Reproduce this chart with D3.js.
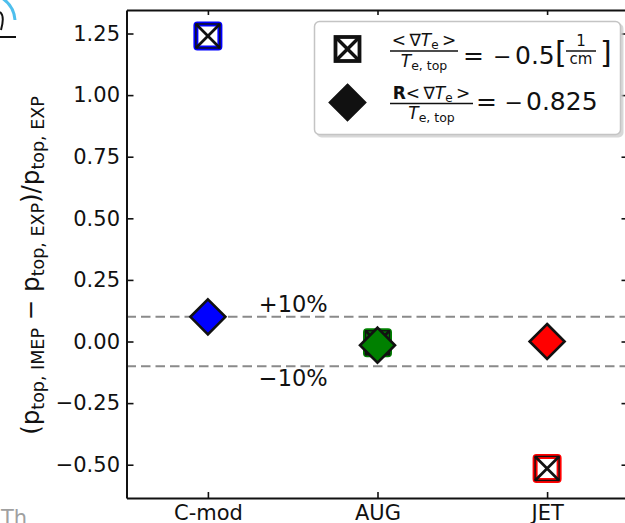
<!DOCTYPE html>
<html>
<head>
<meta charset="utf-8">
<script src="https://cdn.jsdelivr.net/npm/d3@7"></script>
<style>
  html, body { margin: 0; padding: 0; background: #ffffff; }
  svg { display: block; font-family: "DejaVu Sans", sans-serif; }
</style>
</head>
<body>
<svg id="chart" width="625" height="523"></svg>
<script>
// Devices compared on the x axis
const categories = ["C-mod", "AUG", "JET"];
// Relative pedestal-pressure deviation, fixed <grad Te>/Te,top = -0.5 1/cm (boxed-cross markers)
const fixedGradValues = [1.24, -0.005, -0.515];
// Relative pedestal-pressure deviation, fixed R<grad Te>/Te,top = -0.825 (diamonds)
const normGradValues = [0.10, -0.015, 0.0];
const deviceColors = ["#0000ff", "#008000", "#ff0000"];
// Y-axis tick values
const yTickValues = [-0.5, -0.25, 0, 0.25, 0.5, 0.75, 1.0, 1.25];
// +/-10 % reference band
const bandLevels = [0.1, -0.1];
const bandLabels = ["+10%", "\u221210%"];
const bandLabelY = [0.12, -0.18];

const svg = d3.select("#chart");
const plot = { left: 126.5, right: 628.5, top: 10, bottom: 498 };

const x = d3.scaleLinear().domain([-0.48, 2.48]).range([plot.left, plot.right]);
const y = d3.scaleLinear().domain([-0.6351, 1.3454]).range([plot.bottom, plot.top]);

const fmt = v => d3.format(".2f")(v).replace("-", "\u2212");
const ink = "#111111";

// small fragments at the page corners
const deco = svg.append("g");
deco.append("path").attr("d", "M2,-2 Q14,6 15,20").attr("fill", "none")
  .attr("stroke", "#2fb4ea").attr("stroke-width", 3).attr("opacity", 0.85);
deco.append("path").attr("d", "M0,12 Q5,16 1,30").attr("fill", "none")
  .attr("stroke", ink).attr("stroke-width", 2);
deco.append("line").attr("x1", 0).attr("x2", 16).attr("y1", 37).attr("y2", 37)
  .attr("stroke", ink).attr("stroke-width", 2);
deco.append("text").attr("x", 1).attr("y", 525).attr("font-size", 21)
  .attr("fill", "#a0a0a0").text("Th");

// reference lines at +/-10 %
svg.append("g").selectAll("line").data(bandLevels).join("line")
  .attr("x1", plot.left).attr("x2", plot.right)
  .attr("y1", d => y(d)).attr("y2", d => y(d))
  .attr("stroke", "#8a8a8a").attr("stroke-width", 2)
  .attr("stroke-dasharray", "9.5,5");

svg.append("g").selectAll("text").data(bandLabels).join("text")
  .attr("x", x(0.3)).attr("y", (d, i) => y(bandLabelY[i]))
  .attr("font-size", 22.5).attr("fill", ink).text(d => d);

// axes with inward ticks on all four sides
function styleAxis(g) {
  g.select(".domain").attr("stroke", ink).attr("stroke-width", 2);
  g.selectAll(".tick line").attr("stroke", ink).attr("stroke-width", 1.6);
  g.selectAll(".tick text").attr("fill", ink).attr("font-family", "DejaVu Sans");
}

svg.append("g").attr("transform", `translate(${plot.left},0)`)
  .call(d3.axisLeft(y).tickValues(yTickValues).tickFormat(fmt)
    .tickSizeInner(-7).tickSizeOuter(0).tickPadding(6.5))
  .call(g => g.selectAll(".tick text").attr("font-size", 21))
  .call(styleAxis);

svg.append("g").attr("transform", `translate(${plot.right},0)`)
  .call(d3.axisRight(y).tickValues(yTickValues).tickFormat("")
    .tickSizeInner(-7).tickSizeOuter(0))
  .call(styleAxis);

svg.append("g").attr("transform", `translate(0,${plot.bottom})`)
  .call(d3.axisBottom(x).tickValues(d3.range(categories.length))
    .tickFormat(i => categories[i]).tickSizeInner(-6).tickSizeOuter(0).tickPadding(7))
  .call(g => g.selectAll(".tick text").attr("font-size", 21))
  .call(styleAxis);

svg.append("g").attr("transform", `translate(0,${plot.top})`)
  .call(d3.axisTop(x).tickValues(d3.range(categories.length)).tickFormat("")
    .tickSizeInner(-5).tickSizeOuter(0))
  .call(styleAxis);

// y-axis title
const yTitle = svg.append("text")
  .attr("transform", "translate(39,265.5) rotate(-90)")
  .attr("text-anchor", "middle").attr("font-size", 24.5).attr("fill", ink);
const titleParts = [
  ["(p", false], ["top, IMEP", true], [" \u2212 p", false], ["top, EXP", true],
  [")/p", false], ["top, EXP", true]
];
let shifted = false;
titleParts.forEach(([t, sub]) => {
  const ts = yTitle.append("tspan").text(t);
  if (sub) { ts.attr("font-size", 17.5).attr("dy", 5); shifted = true; }
  else if (shifted) { ts.attr("dy", -5); shifted = false; }
});

// marker shapes
const diamondPath = r => `M0,${-r}L${r},0L0,${r}L${-r},0Z`;

function boxCross(g, half, edge, fill) {
  if (edge) {
    g.append("rect").attr("x", -half).attr("y", -half).attr("width", 2 * half).attr("height", 2 * half)
      .attr("rx", 1.5).attr("fill", fill).attr("stroke", edge).attr("stroke-width", 5);
  }
  g.append("rect").attr("x", -half).attr("y", -half).attr("width", 2 * half).attr("height", 2 * half)
    .attr("fill", "none").attr("stroke", ink).attr("stroke-width", edge ? 1.4 : 3.8);
  [[-1, -1, 1, 1], [-1, 1, 1, -1]].forEach(([a, b, c, d]) => {
    g.append("line").attr("x1", a * half).attr("y1", b * half).attr("x2", c * half).attr("y2", d * half)
      .attr("stroke", ink).attr("stroke-width", edge ? 2.8 : 3.4);
  });
}

// boxed-cross markers
fixedGradValues.forEach((v, i) => {
  const g = svg.append("g").attr("transform", `translate(${x(i)},${y(v)})`);
  boxCross(g, 12, deviceColors[i], deviceColors[i] === "#008000" ? deviceColors[i] : "#ffffff");
});

// diamond markers
svg.append("g").selectAll("path").data(normGradValues).join("path")
  .attr("transform", (d, i) => `translate(${x(i)},${y(d)})`)
  .attr("d", diamondPath(17.5))
  .attr("fill", (d, i) => deviceColors[i])
  .attr("stroke", ink).attr("stroke-width", 2.6).attr("stroke-linejoin", "miter");

// legend
const lg = svg.append("g");
lg.append("rect").attr("x", 316.5).attr("y", 23.5).attr("width", 307).attr("height", 114)
  .attr("rx", 5).attr("fill", "#c8c8c8").attr("opacity", 0.7);
lg.append("rect").attr("x", 314.5).attr("y", 21.5).attr("width", 306).attr("height", 113)
  .attr("rx", 5).attr("fill", "#ffffff").attr("stroke", "#c4c4c4").attr("stroke-width", 1.5);

boxCross(lg.append("g").attr("transform", "translate(347.5,49)"), 12, null, "none");
lg.append("path").attr("transform", "translate(347.5,102.5)").attr("d", diamondPath(17.5))
  .attr("fill", ink).attr("stroke", ink).attr("stroke-width", 2.6);

function gradTe(textSel, withR) {
  if (withR) textSel.append("tspan").attr("font-weight", "bold").text("R");
  textSel.append("tspan").text("<\u2009\u2207");
  textSel.append("tspan").attr("font-style", "italic").text("T");
  textSel.append("tspan").attr("font-size", 12).attr("dy", 3).text("e");
  textSel.append("tspan").attr("dy", -3).text("\u2009>");
}
function teTop(textSel) {
  textSel.append("tspan").attr("font-style", "italic").text("T");
  textSel.append("tspan").attr("font-size", 12.5).attr("dy", 3).text("e, top");
}
function word(px, py, size, t, anchor) {
  return lg.append("text").attr("x", px).attr("y", py).attr("font-size", size)
    .attr("fill", ink).attr("text-anchor", anchor || "start").text(t);
}

// row 1
gradTe(lg.append("text").attr("x", 424).attr("y", 46).attr("text-anchor", "middle")
  .attr("font-size", 17).attr("fill", ink), false);
lg.append("line").attr("x1", 390).attr("x2", 458).attr("y1", 51).attr("y2", 51)
  .attr("stroke", ink).attr("stroke-width", 1.5);
teTop(lg.append("text").attr("x", 424).attr("y", 67).attr("text-anchor", "middle")
  .attr("font-size", 17).attr("fill", ink));
word(463, 64, 25, "=");
word(493, 64, 22, "\u2212");
word(515, 64, 25, "0.5");
word(555, 63, 30, "[");
word(581, 46, 15, "1", "middle");
lg.append("line").attr("x1", 566).attr("x2", 596).attr("y1", 51).attr("y2", 51)
  .attr("stroke", ink).attr("stroke-width", 1.5);
word(581, 64, 15, "cm", "middle");
word(600, 63, 30, "]");

// row 2
gradTe(lg.append("text").attr("x", 431.5).attr("y", 99).attr("text-anchor", "middle")
  .attr("font-size", 17).attr("fill", ink), true);
lg.append("line").attr("x1", 390).attr("x2", 473).attr("y1", 103.5).attr("y2", 103.5)
  .attr("stroke", ink).attr("stroke-width", 1.5);
teTop(lg.append("text").attr("x", 431.5).attr("y", 119).attr("text-anchor", "middle")
  .attr("font-size", 17).attr("fill", ink));
word(476, 110, 25, "=");
word(504.5, 110, 22, "\u2212");
word(526, 110, 25, "0.825");
</script>
</body>
</html>
